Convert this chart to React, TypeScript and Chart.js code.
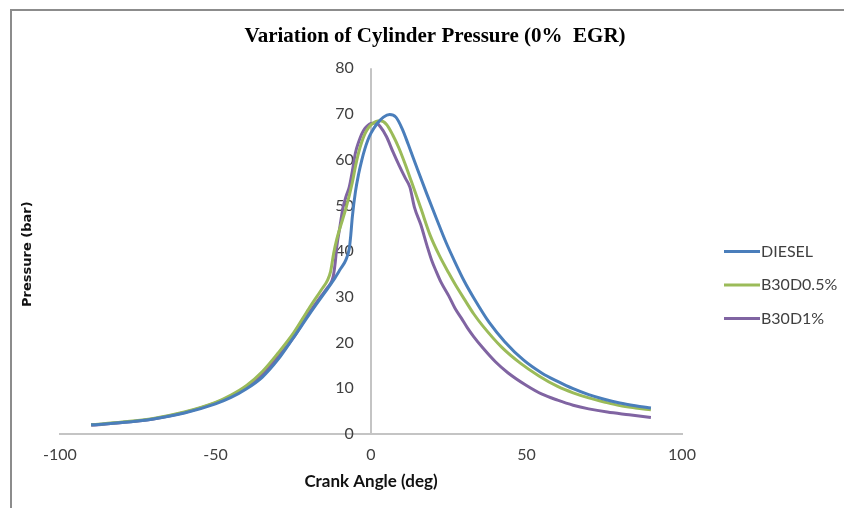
import React, { useEffect, useRef } from "react";
import { Chart, registerables } from "chart.js";

Chart.register(...registerables);

const chartTitle = "Variation of Cylinder Pressure (0%  EGR)";
const xTitle = "Crank Angle (deg)";
const yTitle = "Pressure (bar)";
const xTickValues = [-100, -50, 0, 50, 100];
const yTickValues = [0, 10, 20, 30, 40, 50, 60, 70, 80];
const seriesNames = ["DIESEL", "B30D0.5%", "B30D1%"];
const seriesColors = ["#4a7ebb", "#9bbb59", "#8064a2"];

const dieselAngle = [-90, -80, -70, -60, -50, -45, -40, -35, -30, -25, -20, -15, -12, -10, -8, -7, -6.5, -6, -5, -4, -3, -2, -1, 0, 2, 4, 6, 8, 10, 12, 15, 18, 21, 24, 27, 30, 33, 38, 43, 49, 55, 60, 65, 70, 75, 80, 85, 90];
const dieselPressure = [2.0, 2.5, 3.3, 4.6, 6.6, 8.0, 9.9, 12.4, 16.2, 21.0, 26.0, 30.8, 33.7, 35.9, 38.2, 40.5, 43.5, 47.5, 53.0, 56.8, 59.8, 62.3, 64.3, 65.8, 67.9, 69.3, 69.9, 69.3, 66.8, 63.3, 57.8, 52.4, 47.2, 42.1, 37.6, 33.4, 29.8, 24.4, 20.2, 16.2, 13.3, 11.5, 9.9, 8.6, 7.6, 6.8, 6.2, 5.7];

const b05Angle = [-90, -80, -70, -60, -50, -45, -40, -35, -30, -25, -20, -16, -14, -13, -12, -11, -10, -8, -6, -5, -4, -3, -2, -1, 0, 1.5, 3, 5, 7, 9, 11, 13, 16, 19, 22, 25, 27, 30, 33, 36, 42, 48, 54, 60, 65, 70, 75, 80, 85, 90];
const b05Pressure = [2.0, 2.6, 3.4, 4.8, 6.9, 8.5, 10.6, 13.6, 17.6, 22.0, 27.4, 31.5, 33.6, 35.5, 39.5, 42.6, 45.0, 49.5, 55.0, 58.5, 61.5, 63.8, 65.6, 66.8, 67.6, 68.3, 68.5, 67.7, 65.4, 62.5, 59.0, 55.2, 49.4, 43.5, 39.0, 35.2, 32.8, 29.5, 26.3, 23.6, 19.0, 15.5, 12.7, 10.4, 9.0, 7.9, 7.0, 6.2, 5.7, 5.3];

const b1Angle = [-90, -80, -70, -60, -50, -45, -40, -35, -30, -25, -20, -16, -14, -12.5, -12, -11.5, -11, -10, -9, -8, -7, -6, -5, -4, -3, -2, -1, 0, 1.5, 3, 5, 7, 9, 11, 12.5, 14, 16, 18, 19.5, 21, 22.5, 25, 27, 29, 31, 33, 36, 40, 44, 50, 55, 60, 65, 70, 76, 83, 90];
const b1Pressure = [1.9, 2.5, 3.3, 4.7, 6.8, 8.3, 10.3, 13.0, 16.8, 21.0, 26.4, 30.2, 32.0, 33.6, 35.0, 37.5, 41.0, 45.3, 49.5, 52.0, 54.0, 57.5, 61.5, 63.8, 65.6, 66.8, 67.5, 67.9, 68.0, 67.2, 65.0, 61.8, 58.8, 56.0, 54.0, 49.5, 45.8, 41.2, 38.0, 35.5, 33.2, 30.2, 27.5, 25.4, 23.2, 21.3, 18.8, 15.8, 13.4, 10.6, 8.7, 7.4, 6.3, 5.5, 4.8, 4.2, 3.6];

const seriesAngles = [dieselAngle, b05Angle, b1Angle];
const seriesPressures = [dieselPressure, b05Pressure, b1Pressure];

const extrasPlugin = {
  id: "extras",
  afterDraw(chart: any) {
    const ctx = chart.ctx;
    const area = chart.chartArea;
    ctx.save();
    ctx.fillStyle = "#111111";
    ctx.font = "bold 13px 'DejaVu Sans'";
    ctx.textAlign = "center";
    ctx.textBaseline = "middle";
    ctx.translate(28, (area.top + area.bottom) / 2 + 3);
    ctx.rotate(-Math.PI / 2);
    ctx.fillText(yTitle, 0, 0);
    ctx.restore();

    ctx.save();
    ctx.font = "16px Lato";
    ctx.textAlign = "left";
    ctx.textBaseline = "middle";
    const lx = area.right + 42;
    const cy = 285;
    chart.data.datasets.forEach((ds: any, i: number) => {
      const y = cy + (i - 1) * 33.5;
      ctx.strokeStyle = ds.borderColor;
      ctx.lineWidth = 3;
      ctx.beginPath();
      ctx.moveTo(lx, y);
      ctx.lineTo(lx + 36, y);
      ctx.stroke();
      ctx.fillStyle = "#404040";
      ctx.fillText(ds.label, lx + 37, y);
    });
    ctx.restore();
  },
};

export default function App() {
  const canvasRef = useRef<HTMLCanvasElement | null>(null);

  useEffect(() => {
    const canvas = canvasRef.current;
    if (!canvas) return;
    const datasets = seriesNames.map((name, i) => ({
      label: name,
      data: seriesAngles[i].map((a, j) => ({ x: a, y: seriesPressures[i][j] })),
      borderColor: seriesColors[i],
      backgroundColor: seriesColors[i],
      borderWidth: 3,
      pointRadius: 0,
      cubicInterpolationMode: "monotone" as const,
      fill: false,
    }));
    const spacer = (w: number, pos: "left" | "right") => ({
      type: "linear" as const,
      axis: "y" as const,
      position: pos,
      display: true,
      grid: { display: false, drawTicks: false },
      border: { display: false },
      ticks: { display: false },
      afterFit: (s: any) => {
        s.width = w;
      },
    });
    const chart = new Chart(canvas, {
      type: "line",
      data: { datasets },
      plugins: [extrasPlugin],
      options: {
        responsive: false,
        animation: false,
        layout: { padding: { left: 26, right: 0, top: 0, bottom: 15.8 } },
        plugins: {
          legend: { display: false },
          tooltip: { enabled: false },
          title: {
            display: true,
            text: chartTitle,
            color: "#000000",
            font: { family: "'Liberation Serif'", size: 21, weight: "bold" },
            padding: { top: 24, bottom: 19 },
          },
        },
        scales: {
          x: {
            type: "linear",
            min: -100,
            max: 100,
            afterBuildTicks: (s: any) => {
              s.ticks = xTickValues.map((v) => ({ value: v }));
            },
            afterFit: (s: any) => {
              s.height = 58.2;
            },
            grid: {
              display: true,
              drawTicks: false,
              lineWidth: 2,
              color: (c: any) => (c.tick && c.tick.value === 0 ? "#c4c4c4" : "rgba(0,0,0,0)"),
            },
            border: { display: true, color: "#c4c4c4", width: 2 },
            ticks: {
              color: "#404040",
              font: { family: "Lato", size: 16 },
              padding: 11,
              maxRotation: 0,
            },
            title: {
              display: true,
              text: xTitle,
              color: "#111111",
              font: { family: "Lato", size: 17, weight: "bold" },
              padding: { top: 0, bottom: 0 },
            },
          },
          y: {
            type: "linear",
            position: { x: -5.5 } as any,
            min: 0,
            max: 80,
            afterBuildTicks: (s: any) => {
              s.ticks = yTickValues.map((v) => ({ value: v }));
            },
            grid: { display: false, drawTicks: false },
            border: { display: false },
            ticks: {
              color: "#404040",
              font: { family: "Lato", size: 16 },
            },
          },
          padLeft: spacer(34, "left") as any,
          padRight: spacer(162, "right") as any,
        },
      },
    });
    return () => chart.destroy();
  }, []);

  return (
    <div style={{ position: "absolute", left: 0, top: 0, width: 844, height: 508, overflow: "hidden", background: "#ffffff" }}>
      <canvas ref={canvasRef} width={844} height={508} style={{ display: "block" }} />
      <div
        style={{
          position: "absolute",
          left: 10,
          top: 9,
          width: 900,
          height: 600,
          borderTop: "2px solid #8c8c8c",
          borderLeft: "2px solid #8c8c8c",
          pointerEvents: "none",
        }}
      />
    </div>
  );
}
